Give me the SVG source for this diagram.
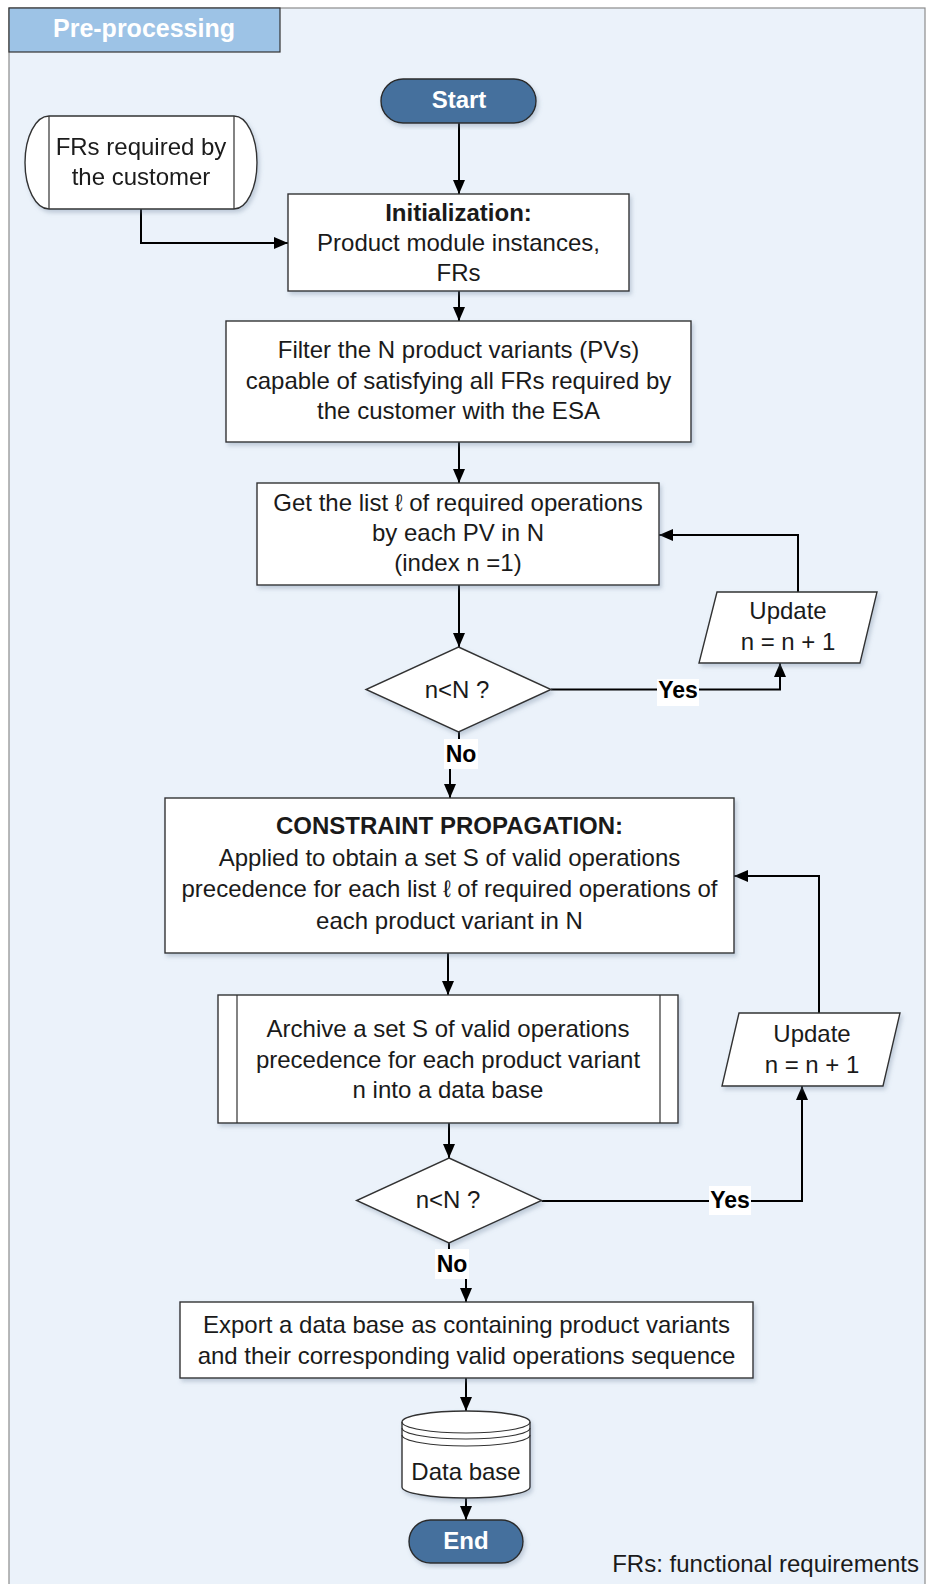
<svg xmlns="http://www.w3.org/2000/svg" width="927" height="1584" viewBox="0 0 927 1584">
<style>
  .t{font-family:"Liberation Sans",Arial,sans-serif;font-size:24px;fill:#1a1a1a;text-anchor:middle}
  .b{font-weight:bold}
  .w{fill:#ffffff;font-weight:bold}
  .lbl{font-family:"Liberation Sans",Arial,sans-serif;font-size:23px;font-weight:bold;fill:#000;text-anchor:middle}
  .box{fill:#ffffff;stroke:#333333;stroke-width:1.4}
  .term{fill:#44709d;stroke:#2b2b2b;stroke-width:1.4}
  .con{fill:none;stroke:#000;stroke-width:2}
  .lb{fill:#ffffff}
</style>
<defs>
  <marker id="ah" viewBox="0 0 14 12" refX="14" refY="6" markerWidth="14" markerHeight="12" markerUnits="userSpaceOnUse" orient="auto">
    <path d="M0,0 L14,6 L0,12 Z" fill="#000"/>
  </marker>
  <filter id="sh" x="-5%" y="-5%" width="115%" height="120%">
    <feDropShadow dx="2" dy="3" stdDeviation="2" flood-color="#6b7f99" flood-opacity="0.35"/>
  </filter>
</defs>

<g id="frame">
  <rect x="9" y="8" width="916" height="1590" fill="#ebf2fa" stroke="#8c8c8c" stroke-width="1.2"/>
  <rect x="9" y="8" width="271" height="44" fill="#9dc3e6" stroke="#333" stroke-width="1.2"/>
  <text x="144" y="37" class="t w" style="font-size:25px">Pre-processing</text>
</g>

<g id="connectors">
  <path class="con" d="M459,123 V194" marker-end="url(#ah)"/>
  <path class="con" d="M141,209 V243 H288" marker-end="url(#ah)"/>
  <path class="con" d="M459,291 V321" marker-end="url(#ah)"/>
  <path class="con" d="M459,442 V483" marker-end="url(#ah)"/>
  <path class="con" d="M459,585 V647" marker-end="url(#ah)"/>
  <path class="con" d="M551,689.5 H780 V663" marker-end="url(#ah)"/>
  <path class="con" d="M798,592 V535 H659" marker-end="url(#ah)"/>
  <path class="con" d="M459,732 V754 H450 V798" marker-end="url(#ah)"/>
  <path class="con" d="M448,953 V995" marker-end="url(#ah)"/>
  <path class="con" d="M449,1123 V1158" marker-end="url(#ah)"/>
  <path class="con" d="M541.6,1201 H802 V1086" marker-end="url(#ah)"/>
  <path class="con" d="M819,1013 V876 H734" marker-end="url(#ah)"/>
  <path class="con" d="M449,1243 V1264 H466 V1302" marker-end="url(#ah)"/>
  <path class="con" d="M466,1378 V1411" marker-end="url(#ah)"/>
  <path class="con" d="M466,1497 V1520" marker-end="url(#ah)"/>
  <g id="label-yes1"><rect class="lb" x="657" y="679" width="42" height="27"/><text class="lbl" x="678" y="698">Yes</text></g>
  <g id="label-no1"><rect class="lb" x="444" y="739" width="34" height="30"/><text class="lbl" x="461" y="762">No</text></g>
  <g id="label-yes2"><rect class="lb" x="709" y="1186" width="42" height="29"/><text class="lbl" x="730" y="1208">Yes</text></g>
  <g id="label-no2"><rect class="lb" x="435" y="1249" width="34" height="30"/><text class="lbl" x="452" y="1272">No</text></g>
</g>

<g id="start">
  <rect class="term" x="381" y="79" width="155" height="44" rx="22" filter="url(#sh)"/>
  <text class="t w" x="459" y="108">Start</text>
</g>

<g id="frs-input" filter="url(#sh)">
  <path class="box" d="M49,116 H234 A23,46.5 0 0 1 234,209 H49 A24,46.5 0 0 1 49,116 Z"/>
  <path d="M49,116 V209 M234,116 V209" stroke="#333" stroke-width="1.2" fill="none"/>
  <text class="t" x="141" y="155">FRs required by</text>
  <text class="t" x="141" y="185">the customer</text>
</g>

<g id="init">
  <rect class="box" x="288" y="194" width="341" height="97" filter="url(#sh)"/>
  <text class="t b" x="458.5" y="221">Initialization:</text>
  <text class="t" x="458.5" y="251">Product module instances,</text>
  <text class="t" x="458.5" y="281">FRs</text>
</g>

<g id="filter">
  <rect class="box" x="226" y="321" width="465" height="121" filter="url(#sh)"/>
  <text class="t" x="458.5" y="358">Filter the N product variants (PVs)</text>
  <text class="t" x="458.5" y="389">capable of satisfying all FRs required by</text>
  <text class="t" x="458.5" y="419">the customer with the ESA</text>
</g>

<g id="get-list">
  <rect class="box" x="257" y="483" width="402" height="102" filter="url(#sh)"/>
  <text class="t" x="458" y="511">Get the list ℓ of required operations</text>
  <text class="t" x="458" y="541">by each PV in N</text>
  <text class="t" x="458" y="571">(index n =1)</text>
</g>

<g id="update1">
  <polygon class="box" points="717,592 877,592 860,663 699,663" filter="url(#sh)"/>
  <text class="t" x="788" y="619">Update</text>
  <text class="t" x="788" y="650">n = n + 1</text>
</g>

<g id="decision1">
  <polygon class="box" points="458.5,647 551,689.5 458.5,732 366,689.5" filter="url(#sh)"/>
  <text class="t" x="457" y="698">n&lt;N ?</text>
</g>

<g id="constraint">
  <rect class="box" x="165" y="798" width="569" height="155" filter="url(#sh)"/>
  <text class="t b" x="449.5" y="834">CONSTRAINT PROPAGATION:</text>
  <text class="t" x="449.5" y="866">Applied to obtain a set S of valid operations</text>
  <text class="t" x="449.5" y="897">precedence for each list ℓ of required operations of</text>
  <text class="t" x="449.5" y="929">each product variant in N</text>
</g>

<g id="archive">
  <rect class="box" x="218" y="995" width="460" height="128" filter="url(#sh)"/>
  <path d="M237,995 V1123 M660,995 V1123" stroke="#333" stroke-width="1.2" fill="none"/>
  <text class="t" x="448" y="1037">Archive a set S of valid operations</text>
  <text class="t" x="448" y="1068">precedence for each product variant</text>
  <text class="t" x="448" y="1098">n into a data base</text>
</g>

<g id="update2">
  <polygon class="box" points="739,1013 900,1013 883,1086 722,1086" filter="url(#sh)"/>
  <text class="t" x="812" y="1042">Update</text>
  <text class="t" x="812" y="1073">n = n + 1</text>
</g>

<g id="decision2">
  <polygon class="box" points="449,1158 541.6,1200.5 449,1243 356.6,1200.5" filter="url(#sh)"/>
  <text class="t" x="448" y="1208">n&lt;N ?</text>
</g>

<g id="export">
  <rect class="box" x="180" y="1302" width="573" height="76" filter="url(#sh)"/>
  <text class="t" x="466.5" y="1333">Export a data base as containing product variants</text>
  <text class="t" x="466.5" y="1364">and their corresponding valid operations sequence</text>
</g>

<g id="database">
  <path class="box" d="M402,1422 A64,11 0 0 1 530,1422 V1487 A64,11 0 0 1 402,1487 Z" filter="url(#sh)"/>
  <path d="M402,1422 A64,11 0 0 0 530,1422 M402,1428 A64,11 0 0 0 530,1428 M402,1435 A64,11 0 0 0 530,1435" stroke="#333" stroke-width="1.2" fill="none"/>
  <text class="t" x="466" y="1480">Data base</text>
</g>

<g id="end">
  <rect class="term" x="409" y="1520" width="114" height="43" rx="21.5" filter="url(#sh)"/>
  <text class="t w" x="466" y="1549">End</text>
</g>

<g id="note">
  <text class="t" x="919" y="1572" style="text-anchor:end">FRs: functional requirements</text>
</g>
</svg>
